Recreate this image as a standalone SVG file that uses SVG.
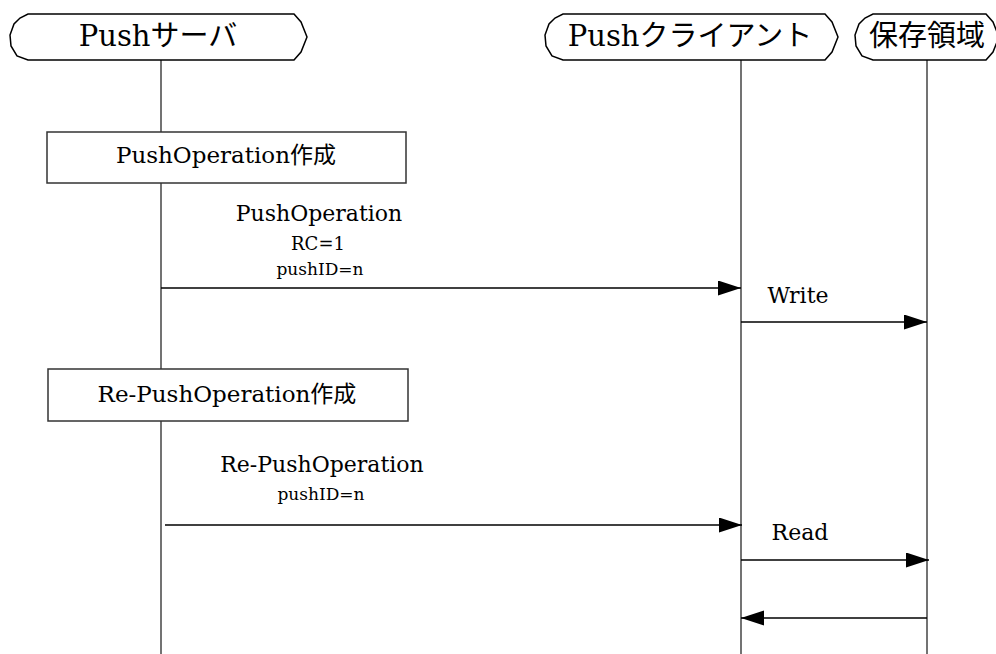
<svg xmlns="http://www.w3.org/2000/svg" width="996" height="654" viewBox="0 0 996 654">
<style>
.hdr{fill:#fff;stroke:#000;stroke-width:1.5}
.life{stroke:#444;stroke-width:1.5;fill:none}
.box{fill:#fff;stroke:#333;stroke-width:1.5}
.msg{stroke:#000;stroke-width:1.5;fill:none;marker-end:url(#ah)}
text{font-family:"DejaVu Serif","Noto Sans CJK JP",serif;fill:#000;text-anchor:middle}
.h{font-size:29px}
.b{font-size:23px}
.l{font-size:22px}
.s{font-size:17px}
</style>
<defs>
<marker id="ah" markerUnits="userSpaceOnUse" markerWidth="24" markerHeight="16" refX="23" refY="7.5" orient="auto">
<path d="M0,0 L23,7.5 L0,15 Z" fill="#000"/>
</marker>
</defs>
<g id="lifelines">
<line class="life" x1="161" y1="60" x2="161" y2="654"/>
<line class="life" x1="741" y1="60" x2="741" y2="654"/>
<line class="life" x1="927" y1="60" x2="927" y2="654"/>
</g>
<g id="node-push-server">
<path class="hdr" d="M28,14 L294,14 L301,22 L307,37 L301,52 L294,60 L28,60 L17,56 L11,46 L10,35 L14,24 L20,18 Z"/>
<text class="h" x="158" y="46">Pushサーバ</text>
</g>
<g id="node-push-client">
<path class="hdr" d="M563,14 L825,14 L832,22 L838,37 L832,52 L825,60 L563,60 L552,56 L546,46 L545,35 L549,24 L555,18 Z"/>
<text class="h" x="690" y="46">Pushクライアント</text>
</g>
<g id="node-storage">
<path class="hdr" d="M873,14 L986,14 L993,22 L999,37 L993,52 L986,60 L873,60 L862,56 L856,46 L855,35 L859,24 L865,18 Z"/>
<text x="927" y="46" style="font-size:29px">保存領域</text>
</g>
<g id="node-create-push">
<rect class="box" x="47" y="132" width="359" height="51"/>
<text class="b" x="226" y="163">PushOperation作成</text>
</g>
<g id="node-create-repush">
<rect class="box" x="48" y="369" width="360" height="52"/>
<text class="b" x="227" y="402">Re-PushOperation作成</text>
</g>
<g id="connectors">
<line class="msg" x1="161" y1="288" x2="741" y2="288"/>
<line class="msg" x1="741" y1="322" x2="927" y2="322"/>
<line class="msg" x1="165" y1="525" x2="742" y2="525"/>
<line class="msg" x1="741" y1="560" x2="929" y2="560"/>
<line class="msg" x1="927" y1="618" x2="741" y2="618"/>
</g>
<g id="labels">
<text class="l" x="319" y="221">PushOperation</text>
<text x="318" y="250" style="font-size:18px">RC=1</text>
<text class="s" x="320" y="275">pushID=n</text>
<text class="l" x="798" y="303">Write</text>
<text class="l" x="322" y="472">Re-PushOperation</text>
<text class="s" x="321" y="500">pushID=n</text>
<text class="l" x="800" y="540">Read</text>
</g>
</svg>
